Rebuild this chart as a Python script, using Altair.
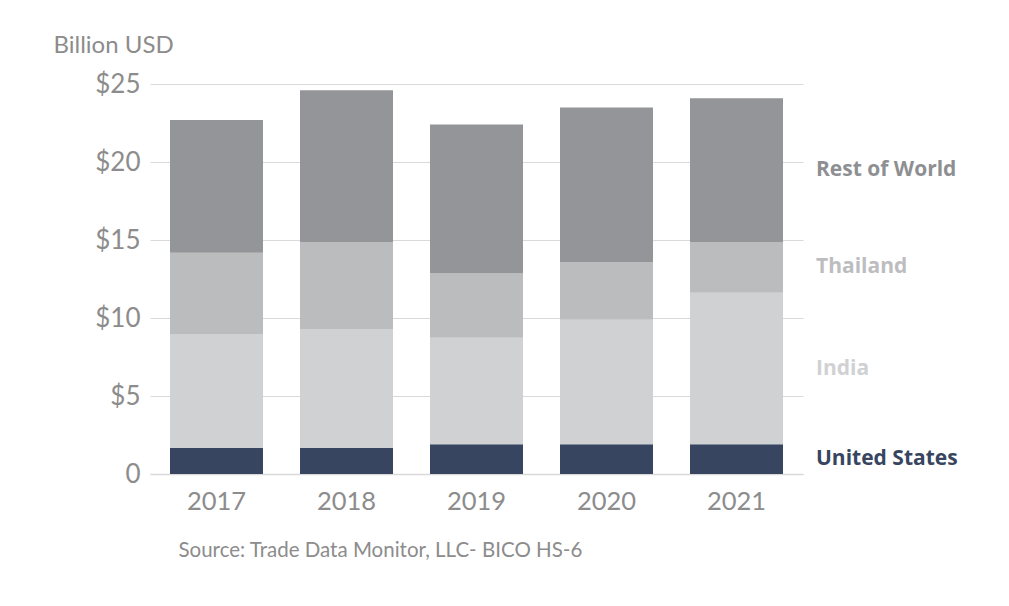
import altair as alt
import pandas as pd

years = ["2017", "2018", "2019", "2020", "2021"]
series = ["United States", "India", "Thailand", "Rest of World"]
united_states = [1.69, 1.69, 1.90, 1.90, 1.90]
india = [7.28, 7.60, 6.84, 7.99, 9.72]
thailand = [5.22, 5.58, 4.14, 3.70, 3.25]
rest_of_world = [8.50, 9.73, 9.52, 9.90, 9.21]
colors = ["#374561", "#D0D1D3", "#BBBCBE", "#949598"]
label_colors = ["#374561", "#D0D1D3", "#BDBDBF", "#8E8F92"]

vals = [united_states, india, thailand, rest_of_world]
rows = []
for si, (name, v) in enumerate(zip(series, vals)):
    for y, val in zip(years, v):
        rows.append({"year": y, "series": name, "value": val, "order": si})
df = pd.DataFrame(rows)

FONT = "Lato"
GRAY = "#8C8C8C"

base = alt.Chart(df)

bars = base.mark_bar(size=93).encode(
    x=alt.X("year:N", sort=years,
            scale=alt.Scale(paddingInner=0.285, paddingOuter=0.154),
            axis=alt.Axis(title="Source: Trade Data Monitor, LLC- BICO HS-6",
                          titleFont=FONT, titleFontSize=20.5, titleFontWeight="normal",
                          titleColor=GRAY, titleAnchor="start", titleAlign="left",
                          titleX=28, titleY=82, titleBaseline="alphabetic",
                          labelAngle=0, labelFont=FONT, labelFontSize=25.5,
                          labelColor=GRAY, labelPadding=15, ticks=False,
                          domain=True, domainColor="#D9D9D9", domainWidth=1.5)),
    y=alt.Y("value:Q", stack="zero",
            scale=alt.Scale(domain=[0, 25], nice=False),
            axis=alt.Axis(title="Billion USD", values=[0, 5, 10, 15, 20, 25],
                          labelExpr="datum.value == 0 ? '0' : '$' + datum.value",
                          titleAngle=0, titleAlign="left", titleBaseline="alphabetic",
                          titleX=-97, titleY=-32, titleFont=FONT, titleFontSize=24,
                          titleFontWeight="normal", titleColor=GRAY,
                          labelFont=FONT, labelFontSize=26, labelColor=GRAY,
                          labelPadding=10, ticks=False, domain=False,
                          grid=True, gridColor="#D9D9D9", gridWidth=1.2)),
    color=alt.Color("series:N", sort=series,
                    scale=alt.Scale(domain=series, range=colors), legend=None),
    order=alt.Order("order:Q", sort="ascending"),
)

labels = base.transform_filter(
    alt.datum.year == "2021"
).transform_stack(
    stack="value", groupby=["year"], as_=["v0", "v1"],
    sort=[alt.SortField("order", order="ascending")]
).transform_calculate(
    mid="(datum.v0 + datum.v1) / 2"
).mark_text(align="left", baseline="middle", font="Open Sans",
            fontSize=21, fontWeight="bold").encode(
    x=alt.value(666),
    y=alt.Y("mid:Q"),
    text="series:N",
    color=alt.Color("series:N", scale=alt.Scale(domain=series, range=label_colors), legend=None),
)

chart = alt.layer(bars, labels).resolve_scale(color="independent").properties(
    width=653, height=390, autosize="none",
    padding={"left": 142, "top": 76, "right": 198, "bottom": 120},
).configure_view(stroke=None)

chart.save("out.html", embed_options={"renderer": "svg", "actions": False})
